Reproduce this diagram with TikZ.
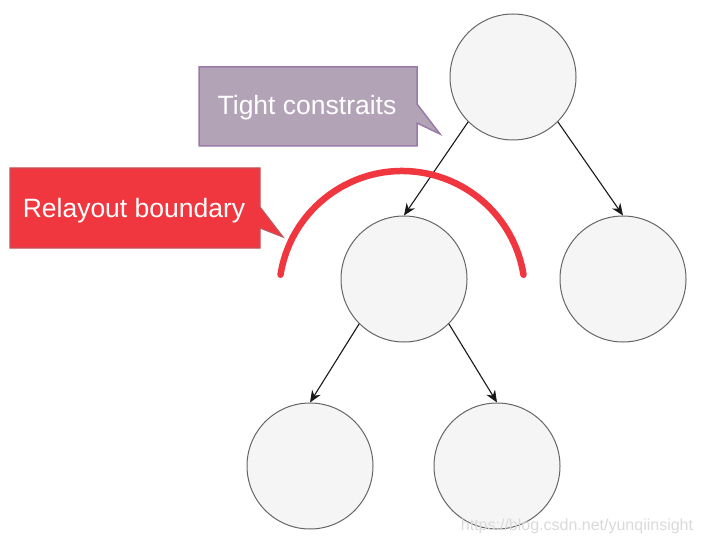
\documentclass[tikz,border=0pt]{standalone}
\usepackage{fontspec}
\setmainfont{Liberation Sans}
\usetikzlibrary{arrows.meta}
\definecolor{circfill}{HTML}{F5F5F5}
\definecolor{circline}{HTML}{666666}
\definecolor{purfill}{HTML}{B2A3B7}
\definecolor{purline}{HTML}{9A7AA8}
\definecolor{redfill}{HTML}{F0373F}
\definecolor{redline}{HTML}{C0545A}
\definecolor{arcred}{HTML}{F0373F}
\definecolor{wm}{HTML}{DADADA}
\tikzset{
  circ/.style={circle, draw=circline, fill=circfill, line width=1pt, minimum size=126pt, inner sep=0pt},
  conn/.style={draw=black!90, line width=1.1pt, -{Stealth[length=12pt,width=10pt]}},
  calltext/.style={text=white, font=\fontsize{26.5}{30}\selectfont, inner sep=0pt}
}
\begin{document}
\begin{tikzpicture}[x=1pt,y=-1pt]
\useasboundingbox[fill=white] (0,0) rectangle (703,545);
% circles
\node[circ] (top) at (513,77) {};
\node[circ] (ml) at (404,279) {};
\node[circ] (mr) at (623,279) {};
\node[circ] (bl) at (310,466) {};
\node[circ] (br) at (497,466) {};
% connectors
\draw[conn] (top.south west) -- (ml.north);
\draw[conn] (top.south east) -- (mr.north);
\draw[conn] (ml.south west) -- (bl.north);
\draw[conn] (ml.south east) -- (br.north);
% red arc
\coordinate (arcc) at (402,294);
\draw[arcred, line width=6.5pt, line cap=round] ([shift={(171:123pt)}]arcc) arc[start angle=171, end angle=9, radius=123pt];
% callout: tight constraits
\draw[purline, fill=purfill, line width=1.5pt, line join=miter]
  (199,67) -- (417,67) -- (417,104) -- (440,134) -- (417,123) -- (417,146) -- (199,146) -- cycle;
\node[calltext] (tight) at (307,108) {Tight constraits};
% callout: relayout boundary
\draw[redline, fill=redfill, line width=1.2pt, line join=miter]
  (10,168) -- (260,168) -- (260,207) -- (283,237) -- (260,228) -- (260,248) -- (10,248) -- cycle;
\node[calltext] (relay) at (134,211) {Relayout boundary};
% watermark
\node[text=wm, font=\fontsize{16}{19}\selectfont, inner sep=0pt] (wmk) at (577,526) {https://blog.csdn.net/yunqiinsight};
\end{tikzpicture}
\end{document}
